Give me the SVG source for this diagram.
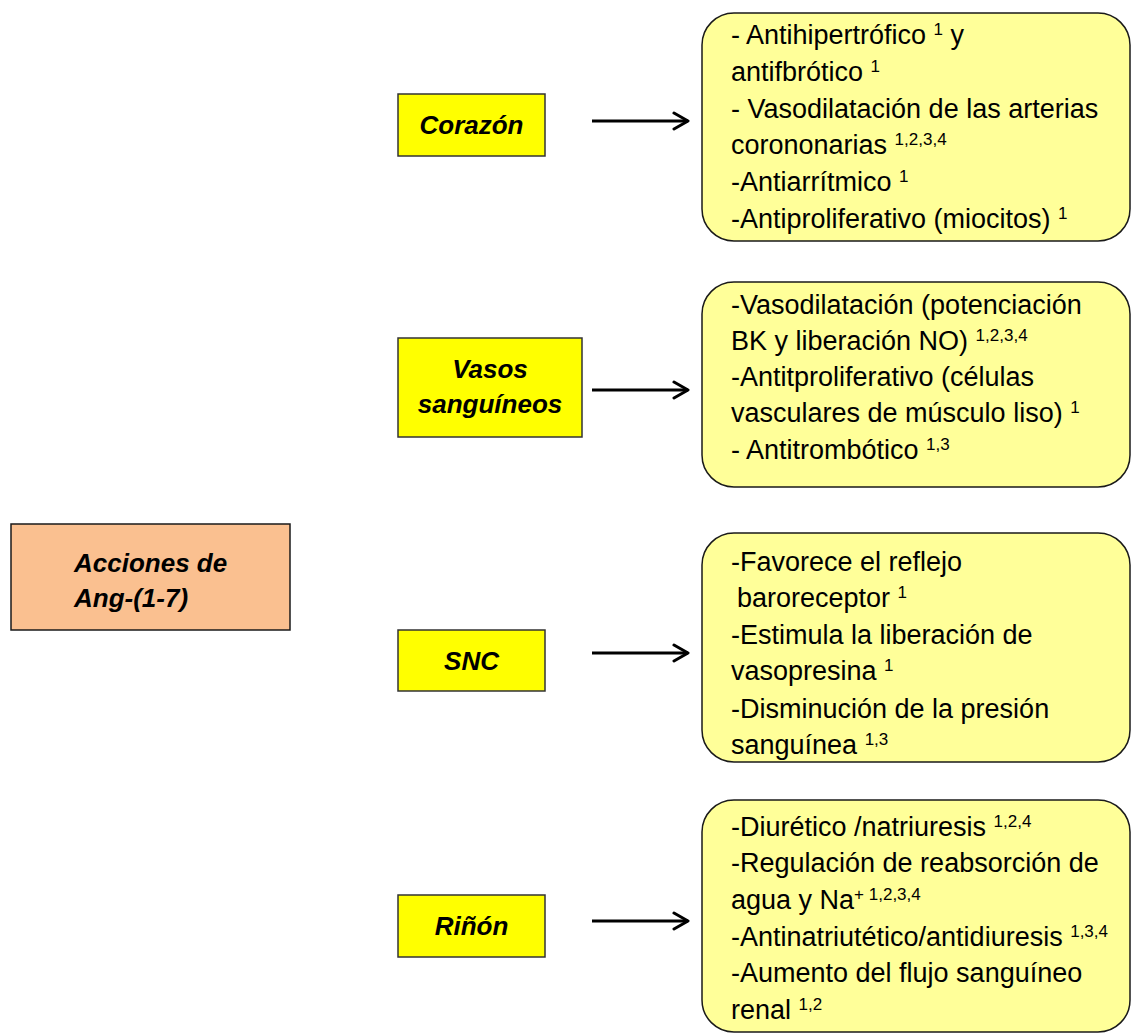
<svg xmlns="http://www.w3.org/2000/svg" width="1131" height="1034" viewBox="0 0 1131 1034">
<style>
  .main{fill:#FAC090;stroke:#1a1a1a;stroke-width:1.5}
  .organ{fill:#FFFF00;stroke:#333;stroke-width:1.5}
  .fx{fill:#FFFF99;stroke:#1a1a1a;stroke-width:1.5}
  .lbl{font-family:"Liberation Sans",Arial,sans-serif;font-weight:bold;font-style:italic;font-size:26px;fill:#000}
  .t{font-family:"Liberation Sans",Arial,sans-serif;font-size:27px;fill:#000}
  .s{font-size:17px}
  .conn{stroke:#000;stroke-width:3;fill:none;marker-end:url(#ah)}
</style>
<defs>
  <marker id="ah" viewBox="0 0 20 20" refX="17" refY="10" markerWidth="20" markerHeight="20" markerUnits="userSpaceOnUse" orient="auto">
    <path d="M3,2 L17,10 L3,18" fill="none" stroke="#000" stroke-width="3" stroke-linecap="round" stroke-linejoin="round"/>
  </marker>
</defs>
<rect width="1131" height="1034" fill="#fff"/>

<g id="acciones">
  <rect class="main" x="11" y="524" width="279" height="106"/>
  <text class="lbl" x="74" y="572">Acciones de</text>
  <text class="lbl" x="74" y="607">Ang-(1-7)</text>
</g>

<g id="corazon">
  <rect class="organ" x="398" y="94" width="147" height="62"/>
  <text class="lbl" x="471.5" y="134" text-anchor="middle">Corazón</text>
</g>
<g id="vasos">
  <rect class="organ" x="398" y="338" width="184" height="99"/>
  <text class="lbl" x="490" y="378" text-anchor="middle">Vasos</text>
  <text class="lbl" x="490" y="413" text-anchor="middle">sanguíneos</text>
</g>
<g id="snc">
  <rect class="organ" x="398" y="630" width="147" height="61"/>
  <text class="lbl" x="471.5" y="670" text-anchor="middle">SNC</text>
</g>
<g id="rinon">
  <rect class="organ" x="398" y="895" width="147" height="62"/>
  <text class="lbl" x="471.5" y="935" text-anchor="middle">Riñón</text>
</g>

<g id="efectos-corazon">
  <rect class="fx" x="702" y="13" width="428" height="228" rx="32"/>
  <text class="t" x="731" y="44">- Antihipertrófico <tspan class="s" dy="-9">1</tspan><tspan dy="9"> y</tspan></text>
  <text class="t" x="731" y="81">antifbrótico <tspan class="s" dy="-9">1</tspan></text>
  <text class="t" x="731" y="118">- Vasodilatación de las arterias</text>
  <text class="t" x="731" y="154">corononarias <tspan class="s" dy="-9">1,2,3,4</tspan></text>
  <text class="t" x="731" y="191">-Antiarrítmico <tspan class="s" dy="-9">1</tspan></text>
  <text class="t" x="731" y="228">-Antiproliferativo (miocitos) <tspan class="s" dy="-9">1</tspan></text>
</g>

<g id="efectos-vasos">
  <rect class="fx" x="702" y="282" width="428" height="205" rx="32"/>
  <text class="t" x="731" y="314">-Vasodilatación (potenciación</text>
  <text class="t" x="731" y="350">BK y liberación NO) <tspan class="s" dy="-9">1,2,3,4</tspan></text>
  <text class="t" x="731" y="386">-Antitproliferativo (células</text>
  <text class="t" x="731" y="422">vasculares de músculo liso)  <tspan class="s" dy="-9">1</tspan></text>
  <text class="t" x="731" y="459">- Antitrombótico <tspan class="s" dy="-9">1,3</tspan></text>
</g>

<g id="efectos-snc">
  <rect class="fx" x="702" y="533" width="428" height="229" rx="32"/>
  <text class="t" x="731" y="571">-Favorece el reflejo</text>
  <text class="t" x="737" y="607">baroreceptor <tspan class="s" dy="-9">1</tspan></text>
  <text class="t" x="731" y="644">-Estimula la liberación de</text>
  <text class="t" x="731" y="680">vasopresina <tspan class="s" dy="-9">1</tspan></text>
  <text class="t" x="731" y="718">-Disminución de la presión</text>
  <text class="t" x="731" y="754">sanguínea <tspan class="s" dy="-9">1,3</tspan></text>
</g>

<g id="efectos-rinon">
  <rect class="fx" x="702" y="800" width="428" height="232" rx="32"/>
  <text class="t" x="731" y="836">-Diurético /natriuresis <tspan class="s" dy="-9">1,2,4</tspan></text>
  <text class="t" x="731" y="872">-Regulación de reabsorción de</text>
  <text class="t" x="731" y="909">agua y  Na<tspan class="s" dy="-9">+ 1,2,3,4</tspan></text>
  <text class="t" x="731" y="946">-Antinatriutético/antidiuresis <tspan class="s" dy="-9">1,3,4</tspan></text>
  <text class="t" x="731" y="982">-Aumento del flujo sanguíneo</text>
  <text class="t" x="731" y="1019">renal <tspan class="s" dy="-9">1,2</tspan></text>
</g>

<g id="connectors">
  <line class="conn" x1="592" y1="121" x2="688" y2="121"/>
  <line class="conn" x1="592" y1="390" x2="688" y2="390"/>
  <line class="conn" x1="592" y1="653" x2="688" y2="653"/>
  <line class="conn" x1="592" y1="921" x2="688" y2="921"/>
</g>
</svg>
